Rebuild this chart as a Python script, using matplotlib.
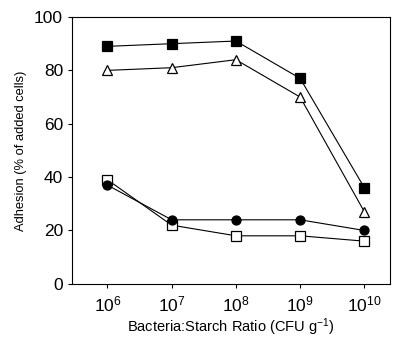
import matplotlib
matplotlib.use("Agg")
import matplotlib.pyplot as plt

plt.rcParams['font.family'] = ['Liberation Sans', 'DejaVu Sans']
plt.rcParams['mathtext.fontset'] = 'custom'
plt.rcParams['mathtext.rm'] = 'Liberation Sans'
plt.rcParams['mathtext.it'] = 'Liberation Sans'
plt.rcParams['mathtext.default'] = 'regular'

ratio = [1e6, 1e7, 1e8, 1e9, 1e10]
filled_square = [89, 90, 91, 77, 36]
open_triangle = [80, 81, 84, 70, 27]
filled_circle = [37, 24, 24, 24, 20]
open_square = [39, 22, 18, 18, 16]
tick_labels = ['$10^{6}$', '$10^{7}$', '$10^{8}$', '$10^{9}$', '$10^{10}$']

fig = plt.figure(figsize=(3.94, 3.47), dpi=100)
ax = fig.add_axes([0.183, 0.182, 0.807, 0.769])

kw = dict(color='black', linewidth=0.8, markersize=6.5, markeredgewidth=0.9)
ax.plot(ratio, open_square, marker='s', markerfacecolor='white', **kw)
ax.plot(ratio, filled_circle, marker='o', markerfacecolor='black', **kw)
ax.plot(ratio, open_triangle, marker='^', markerfacecolor='white', markersize=7.5,
        color='black', linewidth=0.8, markeredgewidth=0.9)
ax.plot(ratio, filled_square, marker='s', markerfacecolor='black', **kw)

ax.set_xscale('log')
ax.set_xlim(10**5.45, 10**10.4)
ax.set_ylim(0, 100)
ax.set_xticks(ratio)
ax.set_xticklabels(tick_labels)
ax.minorticks_off()
ax.set_yticks([0, 20, 40, 60, 80, 100])

ax.tick_params(axis='both', labelsize=12.5, length=3, width=0.8, direction='out')
ax.tick_params(axis='x', pad=5)
for s in ax.spines.values():
    s.set_linewidth(0.8)

ax.set_xlabel('Bacteria:Starch Ratio (CFU g$^{-1}$)', fontsize=10.5, labelpad=1)
ax.set_ylabel('Adhesion (% of added cells)', fontsize=9.3, labelpad=5)

fig.savefig('out.png', dpi=100)
